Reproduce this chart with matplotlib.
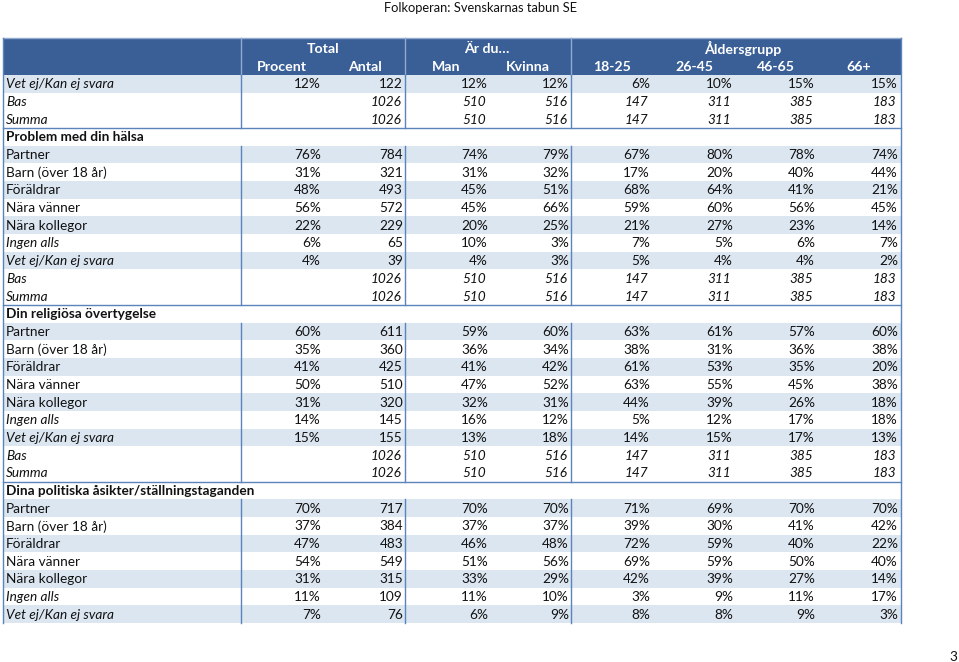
import matplotlib
matplotlib.use("Agg")
import matplotlib.pyplot as plt
from matplotlib.patches import Rectangle

plt.rcParams['font.family'] = ['Lato', 'DejaVu Sans']

title = "Folkoperan: Svenskarnas tabun SE"
page_no = "3"
group_headers = ["Total", "Är du…", "Åldersgrupp"]
col_headers = ["Procent", "Antal", "Man", "Kvinna", "18-25", "26-45", "46-65", "66+"]

# First block (no section heading)
block0_labels = ["Vet ej/Kan ej svara", "Bas", "Summa"]
block0_values = [
    ["12%", "122", "12%", "12%", "6%", "10%", "15%", "15%"],
    ["", "1026", "510", "516", "147", "311", "385", "183"],
    ["", "1026", "510", "516", "147", "311", "385", "183"],
]

section_titles = ["Problem med din hälsa", "Din religiösa övertygelse",
                  "Dina politiska åsikter/ställningstaganden"]
item_labels = ["Partner", "Barn (över 18 år)", "Föräldrar", "Nära vänner",
               "Nära kollegor", "Ingen alls", "Vet ej/Kan ej svara", "Bas", "Summa"]
italic_labels = {"Ingen alls", "Vet ej/Kan ej svara", "Bas", "Summa"}

sec1_values = [
    ["76%", "784", "74%", "79%", "67%", "80%", "78%", "74%"],
    ["31%", "321", "31%", "32%", "17%", "20%", "40%", "44%"],
    ["48%", "493", "45%", "51%", "68%", "64%", "41%", "21%"],
    ["56%", "572", "45%", "66%", "59%", "60%", "56%", "45%"],
    ["22%", "229", "20%", "25%", "21%", "27%", "23%", "14%"],
    ["6%", "65", "10%", "3%", "7%", "5%", "6%", "7%"],
    ["4%", "39", "4%", "3%", "5%", "4%", "4%", "2%"],
    ["", "1026", "510", "516", "147", "311", "385", "183"],
    ["", "1026", "510", "516", "147", "311", "385", "183"],
]
sec2_values = [
    ["60%", "611", "59%", "60%", "63%", "61%", "57%", "60%"],
    ["35%", "360", "36%", "34%", "38%", "31%", "36%", "38%"],
    ["41%", "425", "41%", "42%", "61%", "53%", "35%", "20%"],
    ["50%", "510", "47%", "52%", "63%", "55%", "45%", "38%"],
    ["31%", "320", "32%", "31%", "44%", "39%", "26%", "18%"],
    ["14%", "145", "16%", "12%", "5%", "12%", "17%", "18%"],
    ["15%", "155", "13%", "18%", "14%", "15%", "17%", "13%"],
    ["", "1026", "510", "516", "147", "311", "385", "183"],
    ["", "1026", "510", "516", "147", "311", "385", "183"],
]
sec3_values = [
    ["70%", "717", "70%", "70%", "71%", "69%", "70%", "70%"],
    ["37%", "384", "37%", "37%", "39%", "30%", "41%", "42%"],
    ["47%", "483", "46%", "48%", "72%", "59%", "40%", "22%"],
    ["54%", "549", "51%", "56%", "69%", "59%", "50%", "40%"],
    ["31%", "315", "33%", "29%", "42%", "39%", "27%", "14%"],
    ["11%", "109", "11%", "10%", "3%", "9%", "11%", "17%"],
    ["7%", "76", "6%", "9%", "8%", "8%", "9%", "3%"],
]

# ---- layout (pixels) ----
W, H = 959, 662
fig = plt.figure(figsize=(W / 100, H / 100), dpi=100)
ax = fig.add_axes([0, 0, 1, 1])
ax.set_xlim(0, W)
ax.set_ylim(H, 0)
ax.axis("off")

HEAD = "#3A5F97"
SHADE = "#DCE6F1"
LINE = "#5B84BC"
TXT = "#111111"
FS = 9.8

left, right = 3, 901
col_lines = [241, 405, 571]
col_right = [321, 403, 488, 569, 650, 733, 815, 898]
col_center = [282, 365, 446, 528, 612, 694, 776, 859]
group_center = [323, 487, 743]
head_top, head_mid, body_top = 38, 56.5, 75
rh = 17.68

ax.text(480, 8, title, ha="center", va="center", fontsize=9.3, color=TXT)
ax.text(953, 657, page_no, ha="center", va="center", fontsize=FS, color=TXT)

# header
ax.add_patch(Rectangle((left, head_top), right - left, body_top - head_top,
                       facecolor=HEAD, edgecolor="none"))
for g, x in zip(group_headers, group_center):
    ax.text(x, (head_top + head_mid) / 2 + 1.5, g, ha="center", va="center",
            fontsize=FS + 0.4, color="white", fontweight="bold")
for c, x in zip(col_headers, col_center):
    ax.text(x, (head_mid + body_top) / 2 + 1, c, ha="center", va="center",
            fontsize=FS + 0.4, color="white", fontweight="bold")
for x in col_lines:
    ax.plot([x, x], [head_top, body_top], color="#8FA9D0", lw=1)
ax.plot([left, right], [head_top, head_top], color="#8FA9D0", lw=1)

# build row list
rows = []  # (kind, label, values, shaded)
for i, (lab, vals) in enumerate(zip(block0_labels, block0_values)):
    rows.append(("data", lab, vals, lab == "Vet ej/Kan ej svara"))
for t, vals_all in zip(section_titles, [sec1_values, sec2_values, sec3_values]):
    rows.append(("sec", t, None, False))
    for j, vals in enumerate(vals_all):
        lab = item_labels[j]
        rows.append(("data", lab, vals, j % 2 == 0 and j < 7))

y = body_top
sep_lines = []
seg_start = body_top
segments = []
for k, (kind, lab, vals, shaded) in enumerate(rows):
    yc = y + rh / 2 + 0.5
    if shaded:
        ax.add_patch(Rectangle((left, y), right - left, rh, facecolor=SHADE,
                               edgecolor="none"))
    if kind == "sec":
        segments.append((seg_start, y))
        sep_lines.append(y)
        ax.text(left + 3, yc, lab, ha="left", va="center", fontsize=FS,
                color=TXT, fontweight="bold")
        seg_start = y + rh
    else:
        ital = "italic" if lab in italic_labels else "normal"
        ax.text(left + 3, yc, lab, ha="left", va="center", fontsize=FS,
                color=TXT, style=ital)
        vital = "italic" if lab in ("Bas", "Summa") else "normal"
        for v, xr in zip(vals, col_right):
            ax.text(xr - (2 if vital == "italic" else 0), yc, v, ha="right",
                    va="center", fontsize=FS, color=TXT, style=vital)
    y += rh
segments.append((seg_start, y))
bottom = y

for x in col_lines:
    for a, b in segments:
        ax.plot([x, x], [a, b], color=LINE, lw=1)
for s in sep_lines:
    ax.plot([left, right], [s, s], color=LINE, lw=1)
ax.plot([left, left], [head_top, bottom], color=LINE, lw=1)
ax.plot([right, right], [head_top, bottom], color=LINE, lw=1)

fig.savefig("out.png", dpi=100)
